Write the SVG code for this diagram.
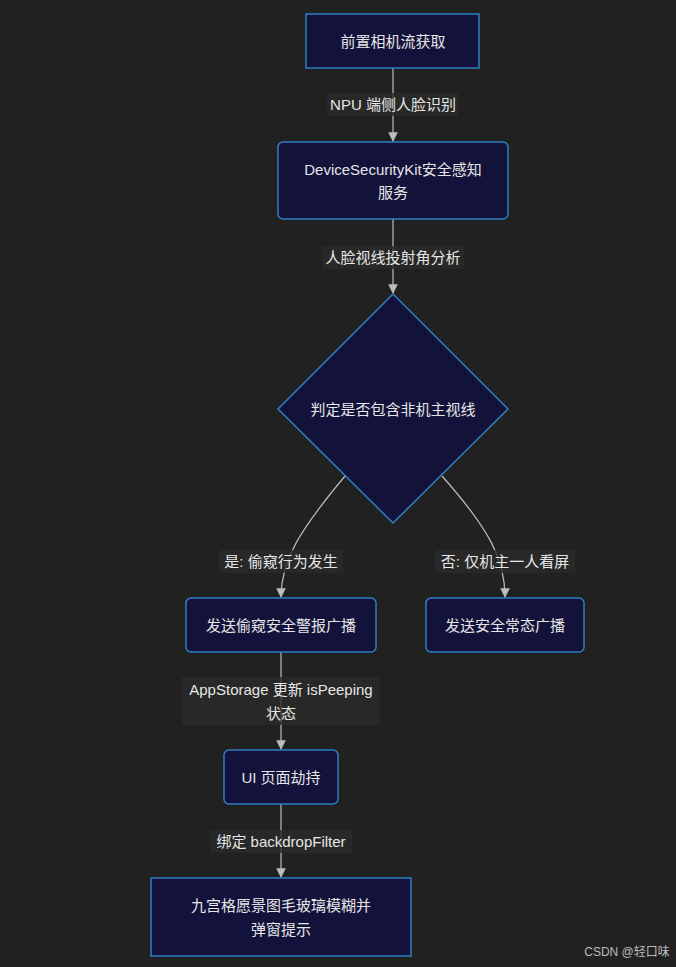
<svg xmlns="http://www.w3.org/2000/svg" width="676" height="967" viewBox="0 0 676 967">
<style>
.n{fill:#13123a;stroke:#2f7fc4;stroke-width:1.5}
.t{font-family:"Liberation Sans","Noto Sans CJK SC",sans-serif;font-size:15px;fill:#e6e6e6;text-anchor:middle;dominant-baseline:central}
.e{fill:none;stroke:#bdbdbd;stroke-width:1.2}
.lb{fill:#2b2b2b;opacity:0.8}
</style>
<defs><marker id="a" viewBox="0 0 10 10" refX="9" refY="5" markerWidth="8" markerHeight="8" orient="auto"><path d="M0,0L10,5L0,10z" fill="#bdbdbd"/></marker></defs>
<rect width="676" height="967" fill="#212121"/>
<g id="edges">
<path class="e" d="M393,68V141" marker-end="url(#a)"/>
<path class="e" d="M393,219V293" marker-end="url(#a)"/>
<path class="e" d="M345,476C300,530 281,560 281,597" marker-end="url(#a)"/>
<path class="e" d="M442,476C490,530 505,560 505,597" marker-end="url(#a)"/>
<path class="e" d="M281,652V749" marker-end="url(#a)"/>
<path class="e" d="M281,804V877" marker-end="url(#a)"/>
<rect class="lb" x="327" y="93" width="131" height="23"/><text class="t" x="393" y="104">NPU 端侧人脸识别</text>
<rect class="lb" x="322" y="246" width="142" height="23"/><text class="t" x="393" y="257">人脸视线投射角分析</text>
<rect class="lb" x="219" y="550" width="124" height="23"/><text class="t" x="281" y="561">是: 偷窥行为发生</text>
<rect class="lb" x="435" y="550" width="140" height="23"/><text class="t" x="505" y="561">否: 仅机主一人看屏</text>
<rect class="lb" x="182" y="677" width="198" height="48"/><text class="t" x="281" y="689">AppStorage 更新 isPeeping</text><text class="t" x="281" y="713">状态</text>
<rect class="lb" x="210" y="830" width="142" height="23"/><text class="t" x="281" y="841">绑定 backdropFilter</text>
</g>
<g id="n1"><rect class="n" x="306" y="14" width="173" height="54"/><text class="t" x="393" y="41">前置相机流获取</text></g>
<g id="n2"><rect class="n" x="278" y="142" width="230" height="77" rx="5"/><text class="t" x="393" y="169">DeviceSecurityKit安全感知</text><text class="t" x="393" y="192">服务</text></g>
<g id="n3"><path class="n" d="M393,294L508,409L393,523L278,409Z"/><text class="t" x="393" y="409">判定是否包含非机主视线</text></g>
<g id="n4"><rect class="n" x="186" y="598" width="190" height="54" rx="5"/><text class="t" x="281" y="625">发送偷窥安全警报广播</text></g>
<g id="n5"><rect class="n" x="426" y="598" width="158" height="54" rx="5"/><text class="t" x="505" y="625">发送安全常态广播</text></g>
<g id="n6"><rect class="n" x="224" y="750" width="114" height="54" rx="5"/><text class="t" x="281" y="777">UI 页面劫持</text></g>
<g id="n7"><rect class="n" x="151" y="878" width="260" height="78"/><text class="t" x="281" y="905">九宫格愿景图毛玻璃模糊并</text><text class="t" x="281" y="929">弹窗提示</text></g>
<text x="627" y="952" style="font-family:'Liberation Sans','Noto Sans CJK SC',sans-serif;font-size:12px;fill:#bbbbbb;text-anchor:middle;dominant-baseline:central">CSDN @轻口味</text>
</svg>
